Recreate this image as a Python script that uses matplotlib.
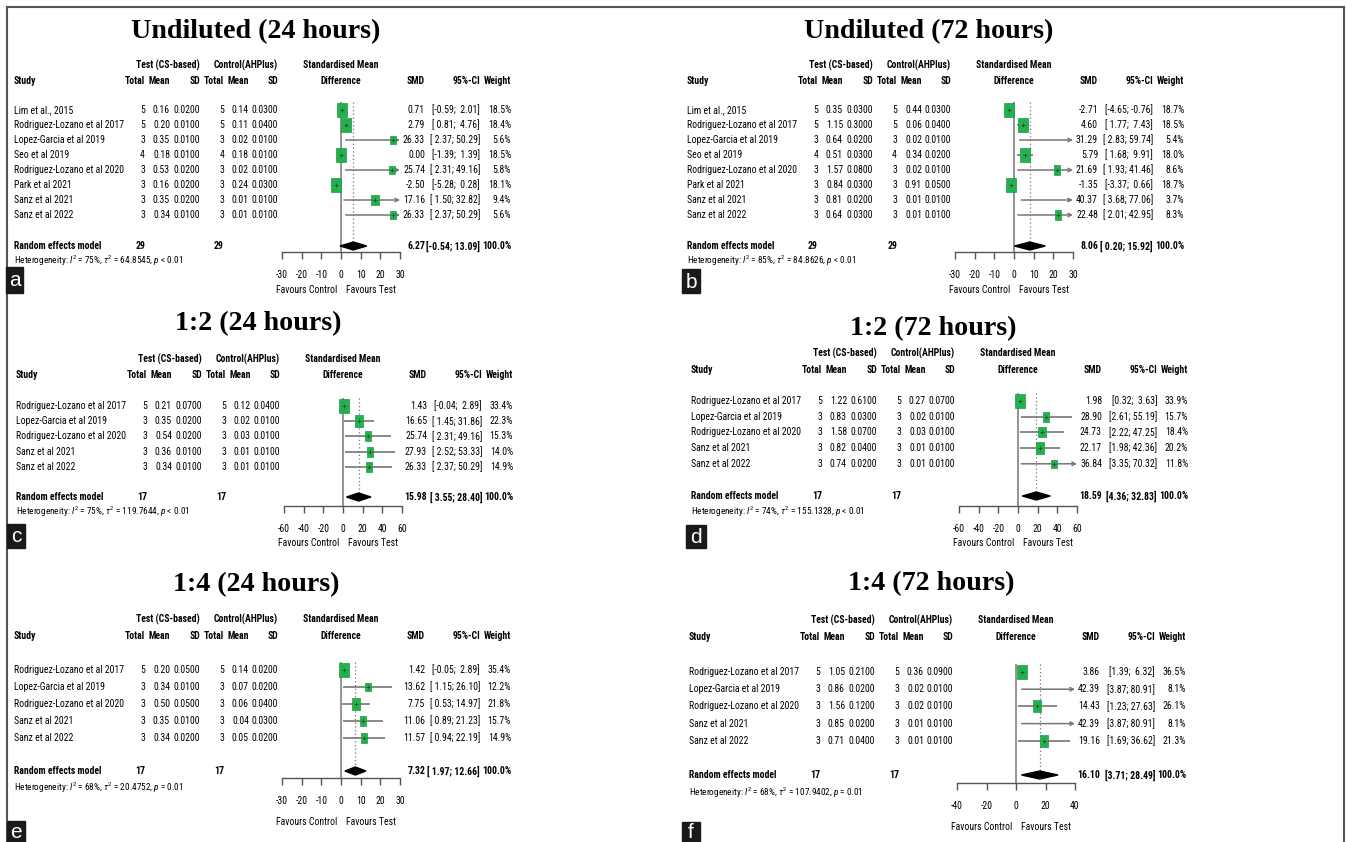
import matplotlib
matplotlib.use("Agg")
import matplotlib.pyplot as plt
from matplotlib import font_manager
from matplotlib.font_manager import FontProperties
from matplotlib.textpath import TextPath
from matplotlib.path import Path
from matplotlib.patches import Rectangle, Polygon

W, H = 1346, 842


def has_regular_and_bold(name):
    ws = {int(f.weight) if str(f.weight).isdigit() else f.weight
          for f in font_manager.fontManager.ttflist if f.name == name and f.style == "normal"}
    return (400 in ws or "normal" in ws or "regular" in ws) and (700 in ws or "bold" in ws)


SANS = "Liberation Sans"
for cand in ["Liberation Sans Narrow", "Arial Narrow", "Archivo Narrow", "Roboto Condensed",
             "Fira Sans Condensed", "IBM Plex Sans Condensed", "Barlow Semi Condensed"]:
    if has_regular_and_bold(cand):
        SANS = cand
        break

plt.rcParams["font.family"] = [SANS, "DejaVu Sans"]
plt.rcParams["mathtext.fontset"] = "custom"
plt.rcParams["mathtext.rm"] = SANS
plt.rcParams["mathtext.it"] = SANS + ":italic"
plt.rcParams["axes.unicode_minus"] = False


def fit_size(text, px, prop):
    w = TextPath((0, 0), text, size=10, prop=prop).get_extents().width
    return 10 * px * 72 / (100 * w)


FS = fit_size("Rodriguez-Lozano et al 2017", 108, FontProperties(family=SANS))
TS = 1.08 * fit_size("Undiluted (24 hours)", 229,
                     FontProperties(family="Liberation Serif", weight="bold"))

# ---- data ----
studies8 = ["Lim et al., 2015", "Rodriguez-Lozano et al 2017", "Lopez-Garcia et al 2019",
            "Seo et al 2019", "Rodriguez-Lozano et al 2020", "Park et al 2021",
            "Sanz et al 2021", "Sanz et al 2022"]
studies5 = ["Rodriguez-Lozano et al 2017", "Lopez-Garcia et al 2019",
            "Rodriguez-Lozano et al 2020", "Sanz et al 2021", "Sanz et al 2022"]

# a: Undiluted (24 hours)
a_test_n = [5, 5, 3, 4, 3, 3, 3, 3]
a_test_mean = [0.16, 0.20, 0.35, 0.18, 0.53, 0.16, 0.35, 0.34]
a_test_sd = [0.02, 0.01, 0.01, 0.01, 0.02, 0.02, 0.02, 0.01]
a_ctrl_n = [5, 5, 3, 4, 3, 3, 3, 3]
a_ctrl_mean = [0.14, 0.11, 0.02, 0.18, 0.02, 0.24, 0.01, 0.01]
a_ctrl_sd = [0.03, 0.04, 0.01, 0.01, 0.01, 0.03, 0.01, 0.01]
a_smd = [0.71, 2.79, 26.33, 0.00, 25.74, -2.50, 17.16, 26.33]
a_lo = [-0.59, 0.81, 2.37, -1.39, 2.31, -5.28, 1.50, 2.37]
a_hi = [2.01, 4.76, 50.29, 1.39, 49.16, 0.28, 32.82, 50.29]
a_weight = [18.5, 18.4, 5.6, 18.5, 5.8, 18.1, 9.4, 5.6]
a_summary = [6.27, -0.54, 13.09]
a_het = ["75%", "64.8545", "< 0.01"]
a_ticks = [-30, -20, -10, 0, 10, 20, 30]

# b: Undiluted (72 hours)
b_test_n = [5, 5, 3, 4, 3, 3, 3, 3]
b_test_mean = [0.35, 1.15, 0.64, 0.51, 1.57, 0.84, 0.81, 0.64]
b_test_sd = [0.03, 0.30, 0.02, 0.03, 0.08, 0.03, 0.02, 0.03]
b_ctrl_n = [5, 5, 3, 4, 3, 3, 3, 3]
b_ctrl_mean = [0.44, 0.06, 0.02, 0.34, 0.02, 0.91, 0.01, 0.01]
b_ctrl_sd = [0.03, 0.04, 0.01, 0.02, 0.01, 0.05, 0.01, 0.01]
b_smd = [-2.71, 4.60, 31.29, 5.79, 21.69, -1.35, 40.37, 22.48]
b_lo = [-4.65, 1.77, 2.83, 1.68, 1.93, -3.37, 3.68, 2.01]
b_hi = [-0.76, 7.43, 59.74, 9.91, 41.46, 0.66, 77.06, 42.95]
b_weight = [18.7, 18.5, 5.4, 18.0, 8.6, 18.7, 3.7, 8.3]
b_summary = [8.06, 0.20, 15.92]
b_het = ["85%", "84.8626", "< 0.01"]
b_ticks = [-30, -20, -10, 0, 10, 20, 30]

# c: 1:2 (24 hours)
c_test_n = [5, 3, 3, 3, 3]
c_test_mean = [0.21, 0.35, 0.54, 0.36, 0.34]
c_test_sd = [0.07, 0.02, 0.02, 0.01, 0.01]
c_ctrl_n = [5, 3, 3, 3, 3]
c_ctrl_mean = [0.12, 0.02, 0.03, 0.01, 0.01]
c_ctrl_sd = [0.04, 0.01, 0.01, 0.01, 0.01]
c_smd = [1.43, 16.65, 25.74, 27.93, 26.33]
c_lo = [-0.04, 1.45, 2.31, 2.52, 2.37]
c_hi = [2.89, 31.86, 49.16, 53.33, 50.29]
c_weight = [33.4, 22.3, 15.3, 14.0, 14.9]
c_summary = [15.98, 3.55, 28.40]
c_het = ["75%", "119.7644", "< 0.01"]
c_ticks = [-60, -40, -20, 0, 20, 40, 60]

# d: 1:2 (72 hours)
d_test_n = [5, 3, 3, 3, 3]
d_test_mean = [1.22, 0.83, 1.58, 0.82, 0.74]
d_test_sd = [0.61, 0.03, 0.07, 0.04, 0.02]
d_ctrl_n = [5, 3, 3, 3, 3]
d_ctrl_mean = [0.27, 0.02, 0.03, 0.01, 0.01]
d_ctrl_sd = [0.07, 0.01, 0.01, 0.01, 0.01]
d_smd = [1.98, 28.90, 24.73, 22.17, 36.84]
d_lo = [0.32, 2.61, 2.22, 1.98, 3.35]
d_hi = [3.63, 55.19, 47.25, 42.36, 70.32]
d_weight = [33.9, 15.7, 18.4, 20.2, 11.8]
d_summary = [18.59, 4.36, 32.83]
d_het = ["74%", "155.1328", "< 0.01"]
d_ticks = [-60, -40, -20, 0, 20, 40, 60]

# e: 1:4 (24 hours)
e_test_n = [5, 3, 3, 3, 3]
e_test_mean = [0.20, 0.34, 0.50, 0.35, 0.34]
e_test_sd = [0.05, 0.01, 0.05, 0.01, 0.02]
e_ctrl_n = [5, 3, 3, 3, 3]
e_ctrl_mean = [0.14, 0.07, 0.06, 0.04, 0.05]
e_ctrl_sd = [0.02, 0.02, 0.04, 0.03, 0.02]
e_smd = [1.42, 13.62, 7.75, 11.06, 11.57]
e_lo = [-0.05, 1.15, 0.53, 0.89, 0.94]
e_hi = [2.89, 26.10, 14.97, 21.23, 22.19]
e_weight = [35.4, 12.2, 21.8, 15.7, 14.9]
e_summary = [7.32, 1.97, 12.66]
e_het = ["68%", "20.4752", "= 0.01"]
e_ticks = [-30, -20, -10, 0, 10, 20, 30]

# f: 1:4 (72 hours)
f_test_n = [5, 3, 3, 3, 3]
f_test_mean = [1.05, 0.86, 1.56, 0.85, 0.71]
f_test_sd = [0.21, 0.02, 0.12, 0.02, 0.04]
f_ctrl_n = [5, 3, 3, 3, 3]
f_ctrl_mean = [0.36, 0.02, 0.02, 0.01, 0.01]
f_ctrl_sd = [0.09, 0.01, 0.01, 0.01, 0.01]
f_smd = [3.86, 42.39, 14.43, 42.39, 19.16]
f_lo = [1.39, 3.87, 1.23, 3.87, 1.69]
f_hi = [6.32, 80.91, 27.63, 80.91, 36.62]
f_weight = [36.5, 8.1, 26.1, 8.1, 21.3]
f_summary = [16.10, 3.71, 28.49]
f_het = ["68%", "107.9402", "= 0.01"]
f_ticks = [-40, -20, 0, 20, 40]

titles = ["Undiluted (24 hours)", "Undiluted (72 hours)", "1:2 (24 hours)",
          "1:2 (72 hours)", "1:4 (24 hours)", "1:4 (72 hours)"]
letters = ["a", "b", "c", "d", "e", "f"]

panels = [
    (studies8, a_test_n, a_test_mean, a_test_sd, a_ctrl_n, a_ctrl_mean, a_ctrl_sd,
     a_smd, a_lo, a_hi, a_weight, a_summary, a_het, a_ticks),
    (studies8, b_test_n, b_test_mean, b_test_sd, b_ctrl_n, b_ctrl_mean, b_ctrl_sd,
     b_smd, b_lo, b_hi, b_weight, b_summary, b_het, b_ticks),
    (studies5, c_test_n, c_test_mean, c_test_sd, c_ctrl_n, c_ctrl_mean, c_ctrl_sd,
     c_smd, c_lo, c_hi, c_weight, c_summary, c_het, c_ticks),
    (studies5, d_test_n, d_test_mean, d_test_sd, d_ctrl_n, d_ctrl_mean, d_ctrl_sd,
     d_smd, d_lo, d_hi, d_weight, d_summary, d_het, d_ticks),
    (studies5, e_test_n, e_test_mean, e_test_sd, e_ctrl_n, e_ctrl_mean, e_ctrl_sd,
     e_smd, e_lo, e_hi, e_weight, e_summary, e_het, e_ticks),
    (studies5, f_test_n, f_test_mean, f_test_sd, f_ctrl_n, f_ctrl_mean, f_ctrl_sd,
     f_smd, f_lo, f_hi, f_weight, f_summary, f_het, f_ticks),
]

# ---- layout (pixels) ----
layouts = [
    dict(left=14, title_y=32, h1=65, h2=81, row0=110, dy=15.0, summ=246, het=261,
         axis=252, fav=290, box=(6, 267, 17, 26)),
    dict(left=687, title_y=32, h1=65, h2=81, row0=110, dy=15.0, summ=246, het=261,
         axis=252, fav=290, box=(682, 269, 18, 24)),
    dict(left=16, title_y=324, h1=359, h2=375, row0=406, dy=15.2, summ=497, het=512,
         axis=506, fav=543, box=(7, 524, 18, 24)),
    dict(left=691, title_y=329, h1=353, h2=370, row0=401, dy=15.7, summ=496, het=512,
         axis=506, fav=543, box=(686, 525, 20, 23)),
    dict(left=14, title_y=585, h1=619, h2=636, row0=670, dy=17.0, summ=771, het=788,
         axis=778, fav=822, box=(7, 821, 18, 21)),
    dict(left=689, title_y=584, h1=620, h2=637, row0=672, dy=17.2, summ=775, het=793,
         axis=783, fav=827, box=(682, 822, 18, 20)),
]
COL = dict(tot1=131, mean1=156, sd1=186, tot2=210, mean2=235, sd2=264,
           zero=327, smd=411, ci=466, wt=497, test=154, ctrl=232, title=242)
HALF = 59
GREEN = "#22b14c"
GRAY = "#767676"

fig = plt.figure(figsize=(W / 100, H / 100), dpi=100)
bg = fig.add_axes([0, 0, 1, 1])
bg.set_xlim(0, W)
bg.set_ylim(H, 0)
bg.axis("off")

# outer frame
bg.plot([7, 7], [7, H], color="#555555", lw=1.5)
bg.plot([7, W - 2], [7, 7], color="#555555", lw=1.5)
bg.plot([W - 2, W - 2], [7, H], color="#555555", lw=1.5)


def rect_marker(aspect):
    hw = aspect / 2
    return Path([(-hw, -0.5), (hw, -0.5), (hw, 0.5), (-hw, 0.5), (-hw, -0.5)],
                [Path.MOVETO, Path.LINETO, Path.LINETO, Path.LINETO, Path.CLOSEPOLY])


SQ = rect_marker(0.7)


def fmt_ci(lo, hi, wl, wh):
    return "[" + f"{lo:.2f}".rjust(wl) + "; " + f"{hi:.2f}".rjust(wh) + "]"


for k, (data, L) in enumerate(zip(panels, layouts)):
    (studies, tn, tm, tsd, cn, cm, csd, smd, lo, hi, wt, summ, het, ticks) = data
    x0 = L["left"]
    X = {key: x0 + v for key, v in COL.items()}
    n = len(studies)
    ys = [L["row0"] + i * L["dy"] for i in range(n)]

    bg.text(X["title"], L["title_y"], titles[k], family="Liberation Serif",
            weight="bold", fontsize=TS, ha="center", va="center")

    hb = dict(fontsize=FS, weight="bold", va="center")
    bg.text(X["test"], L["h1"], "Test (CS-based)", ha="center", **hb)
    bg.text(X["ctrl"], L["h1"], "Control(AHPlus)", ha="center", **hb)
    bg.text(X["zero"], L["h1"], "Standardised Mean", ha="center", **hb)
    bg.text(x0, L["h2"], "Study", ha="left", **hb)
    for key, lab in [("tot1", "Total"), ("mean1", "Mean"), ("sd1", "SD"),
                     ("tot2", "Total"), ("mean2", "Mean"), ("sd2", "SD"),
                     ("smd", "SMD"), ("ci", "95%-CI"), ("wt", "Weight")]:
        bg.text(X[key], L["h2"], lab, ha="right", **hb)
    bg.text(X["zero"], L["h2"], "Difference", ha="center", **hb)

    wl = max(len(f"{v:.2f}") for v in lo + [summ[1]])
    wh = max(len(f"{v:.2f}") for v in hi + [summ[2]])
    tb = dict(fontsize=FS, va="center", ha="right")
    for i, y in enumerate(ys):
        bg.text(x0, y, studies[i], fontsize=FS, va="center", ha="left")
        bg.text(X["tot1"], y, str(tn[i]), **tb)
        bg.text(X["mean1"], y, f"{tm[i]:.2f}", **tb)
        bg.text(X["sd1"], y, f"{tsd[i]:.4f}", **tb)
        bg.text(X["tot2"], y, str(cn[i]), **tb)
        bg.text(X["mean2"], y, f"{cm[i]:.2f}", **tb)
        bg.text(X["sd2"], y, f"{csd[i]:.4f}", **tb)
        bg.text(X["smd"], y, f"{smd[i]:.2f}", **tb)
        bg.text(X["ci"], y, fmt_ci(lo[i], hi[i], wl, wh), **tb)
        bg.text(X["wt"], y, f"{wt[i]:.1f}%", **tb)

    sb = dict(fontsize=FS, va="center", weight="bold")
    ys_ = L["summ"]
    bg.text(x0, ys_, "Random effects model", ha="left", **sb)
    bg.text(X["tot1"], ys_, str(sum(tn)), ha="right", **sb)
    bg.text(X["tot2"], ys_, str(sum(cn)), ha="right", **sb)
    bg.text(X["smd"], ys_, f"{summ[0]:.2f}", ha="right", **sb)
    bg.text(X["ci"], ys_, fmt_ci(summ[1], summ[2], wl, wh), ha="right", **sb)
    bg.text(X["wt"], ys_, "100.0%", ha="right", **sb)
    bg.text(x0, L["het"], "Heterogeneity: $I^2$ = " + het[0] + r", $\tau^2$ = " + het[1]
            + ", $p$ " + het[2], fontsize=FS * 0.95, va="center", ha="left")

    bg.text(X["zero"] - 4, L["fav"], "Favours Control", fontsize=FS, va="center", ha="right")
    bg.text(X["zero"] + 5, L["fav"], "Favours Test", fontsize=FS, va="center", ha="left")

    bx, by, bw, bh = L["box"]
    bg.add_patch(Rectangle((bx, by), bw, bh, color="#1a1a1a", zorder=5))
    bg.text(bx + bw / 2, by + bh / 2 + 1, letters[k], family="Liberation Sans",
            fontsize=15, color="white", ha="center", va="center", zorder=6)

    # forest part
    top = L["row0"] - 8
    ax = fig.add_axes([(X["zero"] - HALF) / W, 1 - L["axis"] / H,
                       2 * HALF / W, (L["axis"] - top) / H])
    ax.patch.set_alpha(0)
    tmin, tmax = ticks[0], ticks[-1]
    ax.set_xlim(tmin, tmax)
    ax.set_ylim(L["axis"], top)
    for s in ["top", "left", "right"]:
        ax.spines[s].set_visible(False)
    ax.spines["bottom"].set_color("#555555")
    ax.spines["bottom"].set_linewidth(1.0)
    ax.set_yticks([])
    ax.set_xticks(ticks)
    ax.set_xticklabels([str(t) for t in ticks])
    ax.tick_params(axis="x", length=5, width=1, color="#555555", labelsize=FS, pad=8)

    ax.axvline(0, color=GRAY, lw=1.1)
    ax.vlines(summ[0], top, ys_ - 4, colors=GRAY, linestyles=(0, (1, 2)), lw=0.9)

    wmax = max(wt)
    for i, y in enumerate(ys):
        a_ = max(lo[i], tmin)
        b_ = min(hi[i], tmax)
        if hi[i] > tmax or lo[i] < tmin:
            style = "<->" if (hi[i] > tmax and lo[i] < tmin) else ("->" if hi[i] > tmax else "<-")
            ax.annotate("", xy=(b_, y), xytext=(a_, y), annotation_clip=False,
                        arrowprops=dict(arrowstyle=style, color=GRAY, lw=1.1,
                                        shrinkA=0, shrinkB=0, mutation_scale=6))
        else:
            ax.plot([a_, b_], [y, y], color=GRAY, lw=1.2, clip_on=False, solid_capstyle="butt")
        if tmin <= smd[i] <= tmax:
            ax.scatter([smd[i]], [y], s=110 * wt[i] / wmax, marker=SQ, color=GREEN,
                       edgecolor="#1c9a40", lw=0.5, zorder=3, clip_on=False)
            ax.scatter([smd[i]], [y], s=6, marker="+", color="#333333", lw=0.5,
                       zorder=4, clip_on=False)

    ax.add_patch(Polygon([(summ[1], ys_), (summ[0], ys_ - 4), (summ[2], ys_),
                          (summ[0], ys_ + 4)], closed=True, color="black",
                         clip_on=False, zorder=4))

fig.savefig("out.png", dpi=100)
